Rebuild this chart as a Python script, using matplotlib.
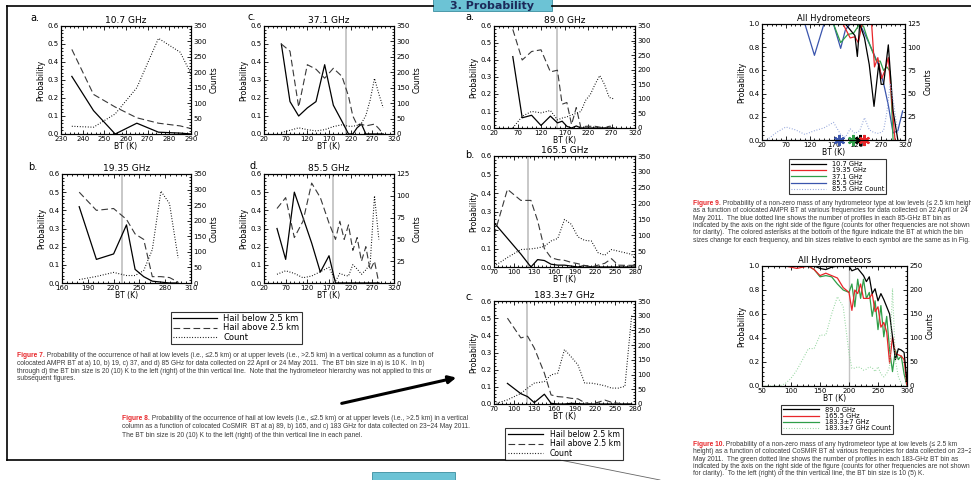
import matplotlib
matplotlib.use("Agg")
import matplotlib.pyplot as plt
import numpy as np
from matplotlib.lines import Line2D
from matplotlib.ticker import AutoMinorLocator, FormatStrFormatter

W, H = 971, 480
nan = np.nan

# ---------------- Figure 7 (AMPR, hail) ----------------
a_bt = [235, 245, 255, 265, 275, 285, 290]
a_below = [0.32, 0.13, 0.0, 0.06, 0.01, 0.005, 0.0]
a_above = [0.47, 0.22, 0.15, 0.09, 0.06, 0.045, 0.03]
a_count = [25, 22, 65, 150, 310, 265, 195]

b_bt = [180, 200, 220, 235, 245, 255, 265, 275, 285, 295]
b_below = [0.42, 0.13, 0.16, 0.32, 0.075, 0.035, 0.01, 0.005, 0.0, 0.0]
b_above = [0.50, 0.40, 0.41, 0.35, 0.27, 0.24, 0.035, 0.035, 0.03, 0.005]
b_count = [11, 21, 34, 24, 24, 40, 107, 295, 255, 80]

c_bt = [60, 80, 100, 120, 140, 160, 180, 200, 215, 225, 235, 245, 255, 265, 275, 285, 295]
c_below = [0.50, 0.18, 0.10, 0.145, 0.18, 0.385, 0.16, 0.07, 0.0, 0.0, 0.035, 0.055, 0.0, 0.0, 0.0, 0.0, 0.0]
c_above = [0.50, 0.46, 0.15, 0.385, 0.36, 0.31, 0.365, 0.32, 0.21, 0.10, 0.05, 0.055, 0.045, 0.05, 0.055, 0.03, 0.0]
c_count = [5, 12, 20, 14, 10, 14, 24, 30, 25, 25, 28, 35, 60, 110, 180, 130, 85]

d_bt = [50, 70, 90, 110, 130, 150, 170, 185, 195, 205, 215, 225, 235, 245, 255, 265, 275, 285]
d_below = [0.30, 0.13, 0.50, 0.36, 0.22, 0.06, 0.15, 0, 0, 0, 0, 0, 0, 0, 0, 0, 0, 0]
d_above = [0.41, 0.47, 0.25, 0.34, 0.55, 0.47, 0.33, 0.24, 0.34, 0.24, 0.32, 0.18, 0.25, 0.12, 0.20, 0.07, 0.12, 0.0]
d_count = [10, 14, 11, 6, 8, 13, 18, 2, 11, 9, 8, 21, 16, 10, 15, 22, 100, 50]

# ---------------- Figure 8 (CoSMIR, hail) ----------------
e_bt = [60, 80, 100, 120, 140, 155, 165, 175, 185, 195, 205, 215, 225, 235, 245, 255, 265, 275]
e_below = [0.42, 0.06, 0.075, 0.015, 0.07, 0.03, 0.04, 0.01, 0.0, 0.012, 0.0, 0.0, 0.0, 0.0, 0.0, 0.0, 0.0, 0.0]
e_above = [0.58, 0.40, 0.45, 0.46, 0.33, 0.34, 0.14, 0.15, 0.02, 0.12, 0.0, 0.01, 0.01, 0.01, 0.005, 0.0, 0.01, 0.01]
e_count = [0, 40, 57, 52, 60, 28, 34, 38, 45, 50, 57, 95, 115, 150, 180, 150, 105, 100]

f_bt = [70, 90, 110, 125, 135, 145, 155, 165, 175, 185, 195, 205, 215, 225, 235, 245, 255, 265, 275, 280]
f_below = [0.24, 0.155, 0.07, 0.0, 0.04, 0.035, 0.015, 0.01, 0.01, 0.005, 0.0, 0.008, 0.0, 0, 0, 0, 0, 0, 0, 0]
f_above = [0.17, 0.42, 0.36, 0.36, 0.25, 0.10, 0.05, 0.04, 0.036, 0.025, 0.018, 0.008, 0.0, 0.01, 0.02, 0.045, 0.01, 0.009, 0.009, 0.009]
f_count = [2, 30, 55, 57, 60, 65, 82, 90, 150, 135, 95, 84, 82, 45, 37, 55, 50, 45, 40, 26]

g_bt = [70, 90, 110, 120, 130, 145, 155, 165, 175, 185, 195, 205, 215, 225, 235, 245, 255, 265, 275]
g_below = [nan, 0.12, 0.06, 0.043, 0.008, 0.057, 0.004, 0.0, 0.0, 0.004, 0.002, 0.0, 0, 0, 0, 0, 0, 0, 0]
g_above = [nan, 0.50, 0.385, 0.395, 0.326, 0.18, 0.053, 0.043, 0.04, 0.033, 0.03, 0.008, 0.0, 0.01, 0.023, 0.01, 0.004, 0.0, 0.0]
g_count = [0, 14, 36, 54, 71, 76, 99, 105, 185, 160, 133, 71, 71, 67, 62, 54, 54, 60, 300]

# ---------------- Figure 9 (AMPR, all hydrometeors) ----------------
h_bt_107 = [185, 195, 205, 215, 220, 225, 235, 245, 255, 265, 270, 275, 285, 295, 305]
h_p_107 = [1.0, 1.0, 0.95, 0.9, 0.72, 1.0, 0.88, 0.65, 0.29, 0.66, 0.48, 0.48, 0.82, 0.25, 0.0]
h_bt_1935 = [170, 190, 205, 215, 222, 230, 240, 250, 256, 263, 271, 278, 285, 292, 299]
h_p_1935 = [1.0, 1.0, 0.88, 0.89, 0.84, 1.0, 1.0, 1.0, 0.63, 0.71, 0.53, 0.60, 0.71, 0.35, 0.0]
h_bt_371 = [150, 170, 185, 200, 212, 225, 233, 240, 250, 260, 268, 275, 282, 289, 295]
h_p_371 = [1.0, 1.0, 0.84, 0.91, 0.92, 1.0, 0.98, 0.89, 0.78, 0.68, 0.68, 0.60, 0.63, 0.59, 0.0]
h_bt_855 = [50, 70, 90, 110, 130, 150, 170, 185, 195, 205, 215, 225, 235, 245, 255, 265, 275, 285, 295, 305, 315]
h_p_855 = [1, 1, 1, 1, 0.73, 1.0, 1.0, 0.79, 0.95, 1.0, 1.0, 1.0, 0.92, 0.83, 0.74, 0.64, 0.49, 0.30, 0.06, 0.08, 0.25]
h_cnt_bt = [30, 50, 70, 90, 110, 130, 150, 170, 185, 195, 205, 215, 225, 235, 245, 255, 265, 275, 282, 289, 296, 305]
h_cnt_855 = [0, 8, 14, 11, 6, 10, 13, 19, 6, 3, 12, 7, 10, 24, 11, 8, 7, 10, 30, 61, 40, 7]
h_star_bt = [182, 211, 226, 233]   # 85.5, 37.1, 10.7, 19.35

# ---------------- Figure 10 (CoSMIR, all hydrometeors) ----------------
k_bt = [50, 60, 70, 80, 90, 100, 110, 120, 130, 140, 150, 160, 170, 180, 190, 200,
        205, 210, 215, 220, 225, 230, 235, 240, 245, 250, 255, 260, 265, 270, 275,
        280, 285, 290, 295, 300]
k_p_890 = [1, 1, 1, 1, 1, 1, 1, 1, 1, 1, 0.98, 0.97, 0.99, 1.0, 1.0, 1.0,
           0.96, 0.97, 0.98, 0.95, 0.92, 0.87, 0.91, 0.77, 0.81, 0.71, 0.77, 0.72, 0.66, 0.60, 0.41,
           0.22, 0.31, 0.30, 0.28, 0.04]
k_p_1655 = [1, 1, 1, 1, 1, 0.99, 0.98, 0.99, 1.0, 0.97, 0.92, 0.94, 0.92, 0.90, 0.82, 0.78,
            0.63, 0.80, 0.77, 0.85, 0.73, 0.73, 0.73, 0.77, 0.62, 0.66, 0.49, 0.53, 0.45, 0.19, 0.41,
            0.27, 0.26, 0.25, 0.22, 0.0]
k_p_1833 = [1, 1, 1, 1, 1, 1, 1, 1, 1, 0.97, 0.91, 0.92, 0.91, 0.85, 0.80, 0.78,
            0.85, 0.66, 0.89, 0.73, 0.89, 0.73, 0.78, 0.58, 0.71, 0.47, 0.67, 0.41, 0.58, 0.30, 0.12,
            0.30, 0.22, 0.25, 0.10, 0.0]
k_cnt_1833 = [0, 0, 0, 0, 5, 16, 33, 55, 78, 78, 106, 106, 150, 186, 165, 68,
              37, 37, 40, 38, 33, 35, 40, 38, 30, 40, 25, 19, 26, 40, 203,
              54, 20, 5, 0, 0]

RED = "#e8262a"
GREEN = "#2e9e48"
BLUE = "#3a55ad"
LGREEN = "#8fd49a"
LBLUE = "#8c9fd8"
VGREY = "#c4c4c4"
TXT = "#3a3a3a"
TEAL = "#6cc3d5"
DOT = (0, (0.8, 1.6))
DASH = (6, 3)

plt.rcParams["font.family"] = ["DejaVu Sans"]
fig = plt.figure(figsize=(W / 100, H / 100), dpi=100)
bg = fig.add_axes([0, 0, 1, 1], zorder=-5)
bg.set_xlim(0, W)
bg.set_ylim(H, 0)
bg.axis("off")


def rect(l, t, r, b):
    return [l / W, 1 - b / H, (r - l) / W, (b - t) / H]


def style(ax, xlim, xticks, ylim, yticks, fs=5.0):
    ax.set_xlim(*xlim)
    ax.set_ylim(*ylim)
    ax.set_xticks(xticks)
    ax.set_yticks(yticks)
    ax.xaxis.set_minor_locator(AutoMinorLocator(5))
    ax.yaxis.set_minor_locator(AutoMinorLocator(5))
    ax.tick_params(which="both", direction="in", top=True, labelsize=fs, pad=1.5, width=0.6)
    ax.tick_params(which="major", length=3)
    ax.tick_params(which="minor", length=1.5)
    for s in ax.spines.values():
        s.set_linewidth(0.8)


def right_axis(ax, ymax, step, label=None, fs=5.0):
    ax2 = ax.twinx()
    ax2.set_ylim(0, ymax)
    ax2.set_yticks(np.arange(0, ymax + 1, step))
    ax2.yaxis.set_minor_locator(AutoMinorLocator(5))
    ax2.tick_params(which="both", direction="in", labelsize=fs, pad=1.5, width=0.6)
    ax2.tick_params(which="major", length=3)
    ax2.tick_params(which="minor", length=1.5)
    if label:
        ax2.set_ylabel(label, fontsize=5.5, labelpad=2)
    return ax2


def hail_panel(box, tag, tag_xy, title, xlim, xticks, bt, below, above, count,
               cmax=350, cstep=50, vline=None, counts_label=True):
    ax = fig.add_axes(rect(*box))
    if vline is not None:
        ax.axvline(vline, color=VGREY, lw=1.3, zorder=1)
    ax.plot(bt, below, color="black", lw=0.9)
    ax.plot(bt, above, color="#383838", lw=0.8, dashes=DASH)
    style(ax, xlim, xticks, (0, 0.6), np.arange(0, 0.61, 0.1))
    ax.yaxis.set_major_formatter(FormatStrFormatter("%.1f"))
    ax.set_ylabel("Probability", fontsize=5.5, labelpad=1.5)
    ax.set_xlabel("BT (K)", fontsize=5.5, labelpad=0)
    ax.set_title(title, fontsize=6.5, pad=2)
    bg.text(tag_xy[0], tag_xy[1], tag, fontsize=7, ha="left", va="baseline")
    ax2 = right_axis(ax, cmax, cstep, "Counts" if counts_label else None)
    ax2.plot(bt, count, color="black", lw=0.8, ls=DOT)
    return ax


# frame pieces of the poster
bg.plot([7, 433], [6, 6], color="black", lw=1.2)
bg.plot([552, W], [6, 6], color="black", lw=1.2)
bg.plot([7, 7], [6, 460], color="black", lw=1.2)
bg.plot([7, 560], [460, 460], color="black", lw=1.2)
bg.plot([560, 660], [460, 480], color="#666666", lw=0.6)
bg.add_patch(plt.Rectangle((433, -2), 119, 13, facecolor=TEAL, edgecolor="#3b8ea0", lw=0.6))
bg.text(492, 9, "3. Probability", fontsize=8, fontweight="bold", color="#1c2a5a",
        ha="center", va="baseline", clip_on=True)
bg.add_patch(plt.Rectangle((372, 472), 83, 12, facecolor=TEAL, edgecolor="#3b8ea0", lw=0.6))

# Figure 7 panels
xt = np.arange(20, 321, 50)
hail_panel((61, 26, 191, 134), "a.", (30, 21), "10.7 GHz", (230, 290), np.arange(230, 291, 10),
           a_bt, a_below, a_above, a_count)
hail_panel((62, 174, 191, 283), "b.", (28, 170), "19.35 GHz", (160, 310), np.arange(160, 311, 30),
           b_bt, b_below, b_above, b_count, vline=230)
hail_panel((264, 26, 394, 134), "c.", (248, 20), "37.1 GHz", (20, 320), xt,
           c_bt, c_below, c_above, c_count, vline=210)
hail_panel((264, 174, 394, 283), "d.", (249, 169), "85.5 GHz", (20, 320), xt,
           d_bt, d_below, d_above, d_count, cmax=125, cstep=25, vline=180)

# Figure 8 panels
hail_panel((494, 26, 635, 128), "a.", (465, 20), "89.0 GHz", (20, 320), xt,
           e_bt, e_below, e_above, e_count, vline=153, counts_label=False)
hail_panel((494, 156, 635, 267), "b.", (465, 158), "165.5 GHz", (70, 280), np.arange(70, 281, 30),
           f_bt, f_below, f_above, f_count, vline=121, counts_label=False)
hail_panel((494, 301, 635, 404), "c.", (465, 300), "183.3\u00b17 GHz", (70, 280), np.arange(70, 281, 30),
           g_bt, g_below, g_above, g_count, vline=119, counts_label=False)

hail_handles = [Line2D([], [], color="black", lw=0.9),
                Line2D([], [], color="#383838", lw=0.8, dashes=DASH),
                Line2D([], [], color="black", lw=0.8, ls=DOT)]
hail_labels = ["Hail below 2.5 km", "Hail above 2.5 km", "Count"]
leg_kw = dict(loc="center", frameon=True, fancybox=False, edgecolor="black",
              labelspacing=0.05, borderpad=0.3, handletextpad=0.8, borderaxespad=0)
l1 = fig.legend(hail_handles, hail_labels, bbox_to_anchor=(236.5 / W, 1 - 328 / H),
                fontsize=6, handlelength=5.2, **leg_kw)
l1.get_frame().set_linewidth(0.8)
l2 = fig.legend(hail_handles, hail_labels, bbox_to_anchor=(564 / W, 1 - 444 / H),
                fontsize=5.6, handlelength=4.6, **leg_kw)
l2.get_frame().set_linewidth(0.8)

# Figure 9
ax9 = fig.add_axes(rect(762, 24, 905, 140))
ax9.plot(h_bt_855, h_p_855, color=BLUE, lw=0.9)
ax9.plot(h_bt_371, h_p_371, color=GREEN, lw=0.9)
ax9.plot(h_bt_1935, h_p_1935, color=RED, lw=0.9)
ax9.plot(h_bt_107, h_p_107, color="black", lw=0.9)
style(ax9, (20, 320), xt, (0, 1.0), np.arange(0, 1.01, 0.2))
ax9.yaxis.set_major_formatter(FormatStrFormatter("%.1f"))
ax9.set_title("All Hydrometeors", fontsize=6, pad=2)
ax9.set_ylabel("Probability", fontsize=5.5, labelpad=1.5)
ax9.set_xlabel("BT (K)", fontsize=5.5, labelpad=0)
for bt_s, col in zip(h_star_bt, [BLUE, GREEN, "black", RED]):
    ax9.plot([bt_s], [0.0], marker=(6, 2, 0), ms=8, mew=1.5, color=col, clip_on=False, zorder=5)
ax9b = right_axis(ax9, 125, 25, "Counts")
ax9b.plot(h_cnt_bt, h_cnt_855, color=LBLUE, lw=0.8, ls=DOT)

h9 = [Line2D([], [], color="black", lw=0.9), Line2D([], [], color=RED, lw=0.9),
      Line2D([], [], color=GREEN, lw=0.9), Line2D([], [], color=BLUE, lw=0.9),
      Line2D([], [], color=LBLUE, lw=0.8, ls=DOT)]
l3 = fig.legend(h9, ["10.7 GHz", "19.35 GHz", "37.1 GHz", "85.5 GHz", "85.5 GHz Count"],
                bbox_to_anchor=(837.5 / W, 1 - 176.5 / H), fontsize=4.8, handlelength=5.3,
                **leg_kw)
l3.get_frame().set_linewidth(0.8)

# Figure 10
ax10 = fig.add_axes(rect(762, 266, 907, 386))
ax10.axvline(200, color=VGREY, lw=1.0, zorder=1)
ax10.plot(k_bt, k_p_1833, color=GREEN, lw=0.9)
ax10.plot(k_bt, k_p_1655, color=RED, lw=0.9)
ax10.plot(k_bt, k_p_890, color="black", lw=0.9)
style(ax10, (50, 300), np.arange(50, 301, 50), (0, 1.0), np.arange(0, 1.01, 0.2))
ax10.yaxis.set_major_formatter(FormatStrFormatter("%.1f"))
ax10.set_title("All Hydrometeors", fontsize=6, pad=2)
ax10.set_ylabel("Probability", fontsize=5.5, labelpad=1.5)
ax10.set_xlabel("BT (K)", fontsize=5.5, labelpad=0)
ax10b = right_axis(ax10, 250, 50, "Counts")
ax10b.plot(k_bt, k_cnt_1833, color=LGREEN, lw=0.8, ls=DOT)

h10 = [Line2D([], [], color="black", lw=0.9), Line2D([], [], color=RED, lw=0.9),
       Line2D([], [], color=GREEN, lw=0.9), Line2D([], [], color=LGREEN, lw=0.8, ls=DOT)]
l4 = fig.legend(h10, ["89.0 GHz", "165.5 GHz", "183.3\u00b17 GHz", "183.3\u00b17 GHz Count"],
                bbox_to_anchor=(836.5 / W, 1 - 419 / H), fontsize=4.8, handlelength=5.5,
                **leg_kw)
l4.get_frame().set_linewidth(0.8)

# arrow from Fig. 8 caption toward the 183 GHz panel
bg.annotate("", xy=(459, 377), xytext=(339, 404),
            arrowprops=dict(arrowstyle="-|>", color="black", lw=2.2, mutation_scale=11))

# captions: red "Figure N." head, first line continues after it, rest one text per line
CAP_FONT = dict(fontsize=4.8, family="Liberation Sans")


def caption(x, y_top, head, lines, step):
    t = bg.text(x, y_top, head, va="top", ha="left", color=RED, fontweight="bold", **CAP_FONT)
    bg.annotate(" " + lines[0], xy=(1, 1), xycoords=t, va="top", ha="left", color=TXT, **CAP_FONT)
    for i, line in enumerate(lines[1:], start=1):
        bg.text(x, y_top + i * step, line, va="top", ha="left", color=TXT, **CAP_FONT)


caption(17, 352, "Figure 7.", [
    "Probability of the occurrence of hail at low levels (i.e., \u22642.5 km) or at upper levels (i.e., >2.5 km) in a vertical column as a function of",
    "colocated AMPR BT at a) 10, b) 19, c) 37, and d) 85 GHz for data collected on 22 April or 24 May 2011.  The BT bin size in a) is 10 K.  In b)",
    "through d) the BT bin size is 20 (10) K to the left (right) of the thin vertical line.  Note that the hydrometeor hierarchy was not applied to this or",
    "subsequent figures."], 7.8)
caption(122, 415, "Figure 8.", [
    "Probability of the occurrence of hail at low levels (i.e., \u22642.5 km) or at upper levels (i.e., >2.5 km) in a vertical",
    "column as a function of colocated CoSMIR  BT at a) 89, b) 165, and c) 183 GHz for data collected on 23\u221224 May 2011.",
    "The BT bin size is 20 (10) K to the left (right) of the thin vertical line in each panel."], 8.3)
caption(693, 200, "Figure 9.", [
    "Probability of a non-zero mass of any hydrometeor type at low levels (\u2264 2.5 km height)",
    "as a function of colocated AMPR BT at various frequencies for data collected on 22 April or 24",
    "May 2011.  The blue dotted line shows the number of profiles in each 85-GHz BT bin as",
    "indicated by the axis on the right side of the figure (counts for other frequencies are not shown",
    "for clarity).  The colored asterisks at the bottom of the figure indicate the BT at which the bin",
    "sizes change for each frequency, and bin sizes relative to each symbol are the same as in Fig. 7."], 7.3)
caption(693, 441, "Figure 10.", [
    "Probability of a non-zero mass of any hydrometeor type at low levels (\u2264 2.5 km",
    "height) as a function of colocated CoSMIR BT at various frequencies for data collected on 23\u221224",
    "May 2011.  The green dotted line shows the number of profiles in each 183-GHz BT bin as",
    "indicated by the axis on the right side of the figure (counts for other frequencies are not shown",
    "for clarity).  To the left (right) of the thin vertical line, the BT bin size is 10 (5) K."], 7.3)

fig.savefig("out.png", dpi=100)
